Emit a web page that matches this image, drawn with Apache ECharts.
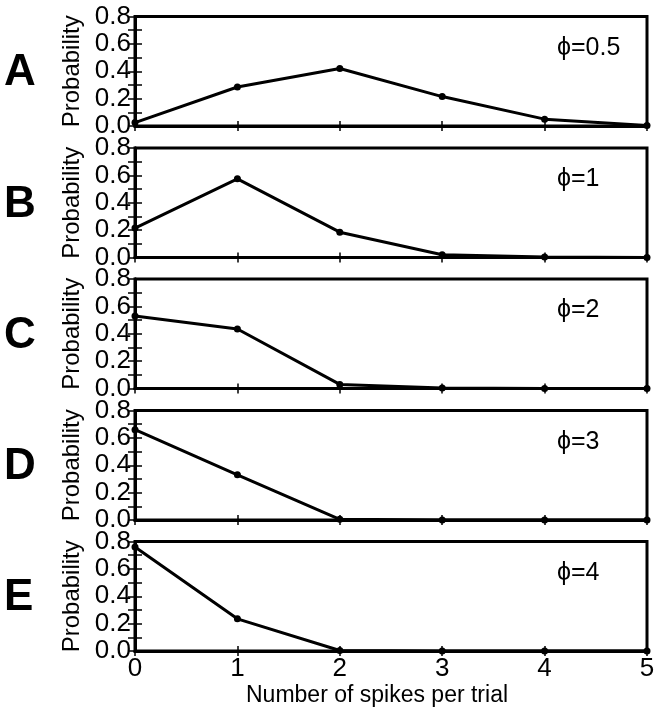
<!DOCTYPE html>
<html>
<head>
<meta charset="utf-8">
<style>
  html, body { margin: 0; padding: 0; background: #fff; }
  #chart { width: 660px; height: 716px; }
</style>
<script src="https://cdn.jsdelivr.net/npm/echarts@6/dist/echarts.min.js"></script>
</head>
<body>
<div id="chart"></div>
<script>
// ---- data ----
const spikeCounts = [0, 1, 2, 3, 4, 5];
const probA = [0.025, 0.285, 0.42, 0.215, 0.05, 0.004];
const probB = [0.215, 0.575, 0.185, 0.02, 0.004, 0.0];
const probC = [0.53, 0.435, 0.03, 0.003, 0.0, 0.0];
const probD = [0.66, 0.33, 0.005, 0.0, 0.0, 0.0];
const probE = [0.76, 0.235, 0.004, 0.0, 0.0, 0.0];
const panelLetters = ['A', 'B', 'C', 'D', 'E'];
const phiLabels = ['\u03D5=0.5', '\u03D5=1', '\u03D5=2', '\u03D5=3', '\u03D5=4'];
const xTitle = 'Number of spikes per trial';
const yTitle = 'Probability';

// ---- layout ----
const panels = [probA, probB, probC, probD, probE];
const tops = [16.5, 148, 279, 410.5, 541.5];
const H = 109.5;
const LEFT = 135, RIGHT = 13;
const FONT = 'Liberation Sans, Arial, Helvetica, sans-serif';

const chart = echarts.init(document.getElementById('chart'), null, { renderer: 'canvas' });

const grid = [], xAxis = [], yAxis = [], series = [], graphic = [];
panels.forEach((vals, i) => {
  grid.push({
    left: LEFT, right: RIGHT, top: tops[i], height: H,
    show: true, borderColor: '#000', borderWidth: 3, backgroundColor: 'transparent'
  });
  const isLast = i === panels.length - 1;
  xAxis.push({
    type: 'value', gridIndex: i, position: 'bottom', min: 0, max: 5, interval: 1,
    axisLine: { show: true, lineStyle: { color: '#000', width: 3 } },
    axisTick: { show: true, inside: true, length: 5, lineStyle: { color: '#000', width: 1.5 } },
    axisLabel: { show: isLast, color: '#000', fontSize: 26, fontFamily: FONT, margin: 5 },
    splitLine: { show: false }
  });
  xAxis.push({
    type: 'value', gridIndex: i, position: 'top', min: 0, max: 5, interval: 1,
    axisLine: { show: true, lineStyle: { color: '#000', width: 3 } },
    axisTick: { show: true, inside: true, length: 5, lineStyle: { color: '#000', width: 1.5 } },
    axisLabel: { show: false }, splitLine: { show: false }
  });
  yAxis.push({
    type: 'value', gridIndex: i, position: 'left', min: 0, max: 0.8, interval: 0.2,
    axisLine: { show: true, lineStyle: { color: '#000', width: 3 } },
    axisTick: { show: true, inside: true, length: 7, lineStyle: { color: '#000', width: 1.5 } },
    minorTick: { show: true, splitNumber: 2, length: 7, lineStyle: { color: '#000', width: 1.5 } },
    axisLabel: { color: '#000', fontSize: 26, fontFamily: FONT, margin: 4,
      formatter: v => v.toFixed(1) },
    splitLine: { show: false },
    name: yTitle, nameLocation: 'middle', nameGap: 47, nameRotate: 90,
    nameTextStyle: { color: '#000', fontSize: 24, fontFamily: FONT }
  });
  yAxis.push({
    type: 'value', gridIndex: i, position: 'right', min: 0, max: 0.8, interval: 0.2,
    axisLine: { show: true, lineStyle: { color: '#000', width: 3 } },
    axisTick: { show: true, inside: true, length: 7, lineStyle: { color: '#000', width: 1.5 } },
    minorTick: { show: true, splitNumber: 2, length: 7, lineStyle: { color: '#000', width: 1.5 } },
    axisLabel: { show: false }, splitLine: { show: false }
  });
  series.push({
    type: 'line', xAxisIndex: 2 * i, yAxisIndex: 2 * i,
    data: spikeCounts.map((x, k) => [x, vals[k]]),
    symbol: 'circle', symbolSize: 7, showSymbol: true,
    lineStyle: { color: '#000', width: 3 },
    itemStyle: { color: '#000' },
    animation: false, z: 3
  });
  graphic.push({
    type: 'text', left: 4, top: tops[i] + H / 2 - 20,
    style: { text: panelLetters[i], fill: '#000', font: 'bold 44px ' + FONT }
  });
  graphic.push({
    type: 'text', left: 557, top: tops[i] + 19,
    style: { text: phiLabels[i], fill: '#000', font: '25px ' + FONT }
  });
});

graphic.push({
  type: 'text', left: 246, top: 684,
  style: { text: xTitle, fill: '#000', font: '23px ' + FONT }
});

chart.setOption({
  backgroundColor: '#fff',
  animation: false,
  grid, xAxis, yAxis, series, graphic
});
</script>
</body>
</html>
